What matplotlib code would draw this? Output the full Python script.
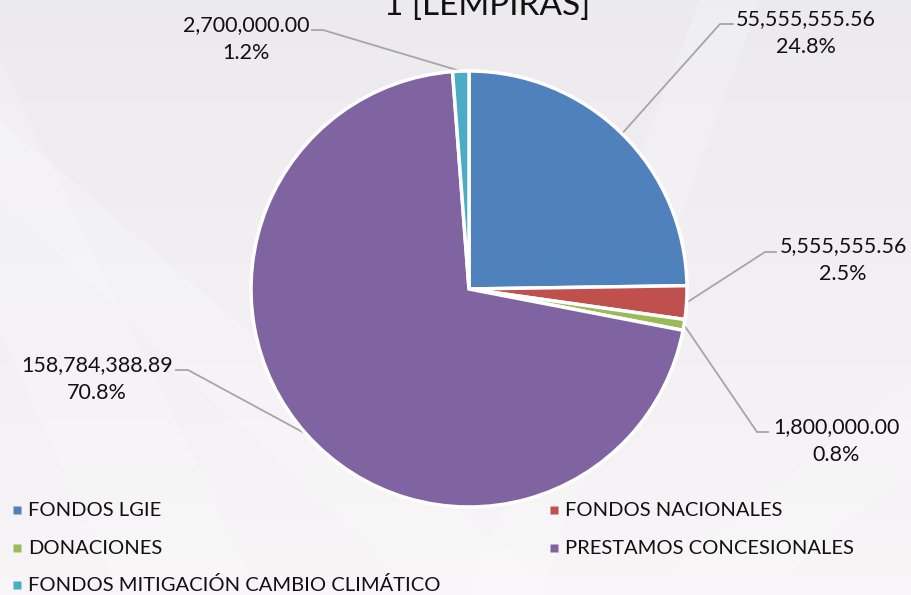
import numpy as np
import matplotlib
matplotlib.use('Agg')
import matplotlib.pyplot as plt
from matplotlib.patches import Polygon

# datos
categorias = ['FONDOS LGIE', 'FONDOS NACIONALES', 'DONACIONES',
              'PRESTAMOS CONCESIONALES', 'FONDOS MITIGACIÓN CAMBIO CLIMÁTICO']
montos = [55555555.56, 5555555.56, 1800000.00, 158784388.89, 2700000.00]
colores = ['#4F81BD', '#C0504D', '#9BBB59', '#8064A2', '#4BACC6']
titulo = '1 [LEMPIRAS]'

W, H = 912, 595
plt.rcParams['font.family'] = ['Lato', 'DejaVu Sans']

fig = plt.figure(figsize=(W / 100, H / 100), dpi=100)
ax = fig.add_axes([0, 0, 1, 1])

# fondo gris claro con degradado
grad = np.linspace(0, 1, 200).reshape(-1, 1)
top = np.array([0.925, 0.918, 0.933])
bot = np.array([0.972, 0.962, 0.970])
img = top + (bot - top) * grad[..., None]
ax.imshow(img, extent=[0, W, 0, H], origin='upper', zorder=0, aspect='auto')
for pts in ([(0, 330), (0, 60), (260, 595), (120, 595)],
            [(0, 200), (0, 120), (560, 595), (420, 595)],
            [(640, 595), (912, 380), (912, 470), (760, 595)],
            [(470, 595), (700, 0), (760, 0), (540, 595)]):
    ax.add_patch(Polygon([(x, H - y) for x, y in pts], closed=True,
                         fc='white', ec='none', alpha=0.2, zorder=1))

# pastel
cx, cy, r = 469, 289, 218
wedges, _ = ax.pie(montos, colors=colores, startangle=90, counterclock=False,
                   center=(cx, H - cy), radius=r,
                   wedgeprops=dict(edgecolor='white', linewidth=2.5))
for w in wedges:
    w.set_zorder(3)

total = sum(montos)
# posicion de etiquetas: (codo x, codo y, fin x, texto x, texto y)
etiquetas_pos = [
    (720, 24, 733, 806, 33),
    (765, 252, 776, 843, 260),
    (757, 432, 768, 836, 441),
    (188, 370, 176, 97, 379),
    (323, 30, 312, 246, 39),
]
for w, m, (ex, ey, fx, tx, ty) in zip(wedges, montos, etiquetas_pos):
    ang = np.deg2rad((w.theta1 + w.theta2) / 2)
    px = cx + r * np.cos(ang)
    py = cy - r * np.sin(ang)
    ax.plot([px, ex, fx], [H - py, H - ey, H - ey],
            color='#A6A6A6', lw=1.3, zorder=2)
    ax.text(tx, H - ty, f'{m:,.2f}\n{m / total * 100:.1f}%', ha='center', va='center',
            fontsize=15.5, linespacing=1.45, color='#111111', zorder=4)

# titulo (cortado arriba)
ax.text(487, H - 15, titulo, ha='center', va='baseline', fontsize=24, color='#111111')

# leyenda
leyenda_pos = [(13, 510), (550, 510), (13, 548), (550, 548), (13, 585)]
for c, cat, (lx, ly) in zip(colores, categorias, leyenda_pos):
    ax.plot(lx + 4, H - ly, marker='s', ms=6, color=c, mec='none', zorder=4)
    ax.text(lx + 15, H - ly, cat, ha='left', va='center', fontsize=14.5, color='#111111')

ax.set_xlim(0, W)
ax.set_ylim(0, H)
ax.set_aspect('auto')
ax.axis('off')

fig.savefig('out.png', dpi=100)
